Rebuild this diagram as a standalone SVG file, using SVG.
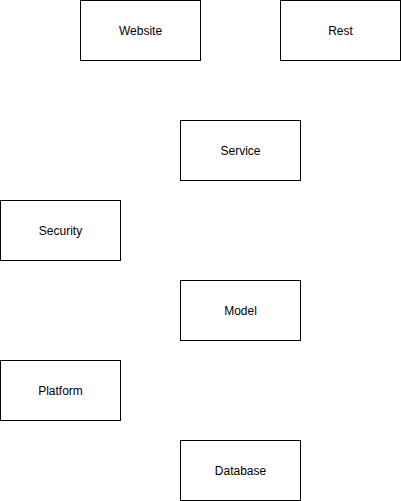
<svg xmlns="http://www.w3.org/2000/svg" width="401" height="501" viewBox="0 0 401 501">
<style>
.box{fill:#fff;stroke:#000;stroke-width:1}
.lbl{font-family:"Liberation Sans",Arial,Helvetica,sans-serif;font-size:12px;fill:#000;text-anchor:middle;dominant-baseline:central}
</style>
<rect width="401" height="501" fill="#fff"/>
<g id="connectors"></g>
<g id="website"><rect class="box" x="80.5" y="0.5" width="120" height="60"/><text class="lbl" x="140.5" y="30.5">Website</text></g>
<g id="rest"><rect class="box" x="280.5" y="0.5" width="120" height="60"/><text class="lbl" x="340.5" y="30.5">Rest</text></g>
<g id="service"><rect class="box" x="180.5" y="120.5" width="120" height="60"/><text class="lbl" x="240.5" y="150.5">Service</text></g>
<g id="security"><rect class="box" x="0.5" y="200.5" width="120" height="60"/><text class="lbl" x="60.5" y="230.5">Security</text></g>
<g id="model"><rect class="box" x="180.5" y="280.5" width="120" height="60"/><text class="lbl" x="240.5" y="310.5">Model</text></g>
<g id="platform"><rect class="box" x="0.5" y="360.5" width="120" height="60"/><text class="lbl" x="60.5" y="390.5">Platform</text></g>
<g id="database"><rect class="box" x="180.5" y="440.5" width="120" height="60"/><text class="lbl" x="240.5" y="470.5">Database</text></g>
</svg>
